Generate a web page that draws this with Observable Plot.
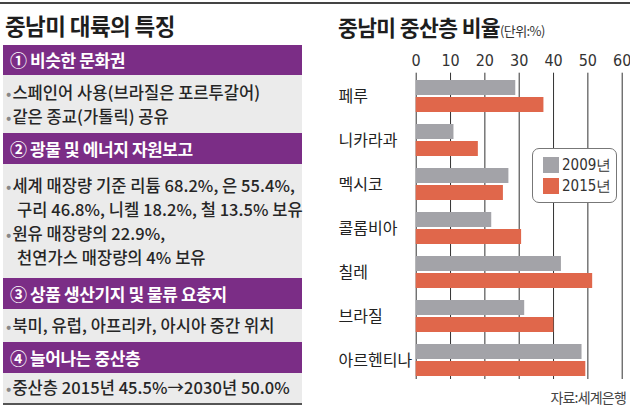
<!DOCTYPE html>
<html>
<head>
<meta charset="utf-8">
<script src="https://cdn.jsdelivr.net/npm/d3@7"></script>
<script src="https://cdn.jsdelivr.net/npm/@observablehq/plot@0.6"></script>
<style>
  html, body { margin: 0; padding: 0; background: #fff; }
  #page { position: relative; width: 630px; height: 413px; overflow: hidden; font-family: "Noto Sans CJK KR", sans-serif; }
  .abs { position: absolute; }
  .title { font-size: 22.5px; font-weight: 700; color: #1e1e1e; letter-spacing: -0.6px; white-space: nowrap; line-height: 26px; }
  .hdr { left: 3px; width: 299px; background: #7b2d86; color: #fff; font-weight: 700; font-size: 17px; padding-left: 7px; box-sizing: border-box; white-space: nowrap; letter-spacing: -0.4px; }
  .body { left: 3px; width: 299px; background: #ebebeb; }
  .ln { font-size: 16.5px; font-weight: 500; color: #262626; white-space: nowrap; line-height: 18px; letter-spacing: 0.05px; }
  .bul { color: #888; font-size: 15px; margin-right: 1px; }
  .leg { font-family: "Liberation Sans Narrow", "DejaVu Sans Condensed", sans-serif; font-size: 15px; color: #333; }
</style>
</head>
<body>
<div id="page">
  <div class="abs" style="left:0;top:2px;width:630px;height:1.5px;background:#444;"></div>

  <div class="abs title" style="left:5px;top:12px;">중남미 대륙의 특징</div>

  <div id="left"></div>

  <div class="abs title" style="left:338px;top:14px;font-size:21.5px;">중남미 중산층 비율<span style="font-size:13px;font-weight:400;letter-spacing:-0.6px;color:#333;">(단위:%)</span></div>

  <div id="chart" class="abs" style="left:320px;top:40px;"></div>

  <div class="abs" style="left:532px;top:148px;width:85px;height:55px;box-sizing:border-box;border:1px solid #777;border-radius:7px;background:#fff;"></div>
  <div id="legend"></div>

  <div class="abs" style="right:4px;top:387px;font-size:14px;color:#444;letter-spacing:-0.8px;white-space:nowrap;">자료:세계은행</div>
</div>
<script>
// ---- data ----
const countries = ["페루", "니카라과", "멕시코", "콜롬비아", "칠레", "브라질", "아르헨티나"];
const v2009 = [29, 11, 27, 22, 42.3, 31.6, 48.3];
const v2015 = [37.2, 18.1, 25.4, 30.7, 51.4, 40.1, 49.4];
const years = ["2009년", "2015년"];
const yearColors = ["#a3a3a8", "#e0674b"];
const xTicks = [0, 10, 20, 30, 40, 50, 60];

const sections = [
  {head: "① 비슷한 문화권", lines: [["•", "스페인어 사용(브라질은 포르투갈어)"], ["•", "같은 종교(가톨릭) 공유"]]},
  {head: "② 광물 및 에너지 자원보고", lines: [["•", "세계 매장량 기준 리튬 68.2%, 은 55.4%,"], ["", "구리 46.8%, 니켈 18.2%, 철 13.5% 보유"], ["•", "원유 매장량의 22.9%,"], ["", "천연가스 매장량의 4% 보유"]]},
  {head: "③ 상품 생산기지 및 물류 요충지", lines: [["•", "북미, 유럽, 아프리카, 아시아 중간 위치"]]},
  {head: "④ 늘어나는 중산층", lines: [["•", "중산층 2015년 45.5%→2030년 50.0%"]]}
];

// ---- left panel layout ----
const headTops = [45, 133, 278, 342];
const headH = [30, 31, 31, 31];
const bodyH = [58, 114, 33, 31];
const lineCenters = [[91.5, 116], [184.5, 208.5, 232.5, 256.5], [325], [387]];
const left = document.getElementById("left");
sections.forEach((s, i) => {
  const h = document.createElement("div");
  h.className = "abs hdr";
  h.style.top = headTops[i] + "px";
  h.style.height = headH[i] + "px";
  h.style.lineHeight = headH[i] + "px";
  h.textContent = s.head;
  left.appendChild(h);
  const b = document.createElement("div");
  b.className = "abs body";
  b.style.top = (headTops[i] + headH[i]) + "px";
  b.style.height = bodyH[i] + "px";
  left.appendChild(b);
  s.lines.forEach((ln, j) => {
    const d = document.createElement("div");
    d.className = "abs ln";
    d.style.top = (lineCenters[i][j] - 9) + "px";
    d.style.left = ln[0] ? "6px" : "17px";
    if (ln[0]) {
      const sp = document.createElement("span");
      sp.className = "bul";
      sp.textContent = ln[0];
      d.appendChild(sp);
    }
    d.appendChild(document.createTextNode(ln[1]));
    left.appendChild(d);
  });
});
const bl = document.createElement("div");
bl.className = "abs";
bl.style.cssText = "left:3px;top:403px;width:299px;height:1.5px;background:#555;";
left.appendChild(bl);

// ---- legend ----
const legend = document.getElementById("legend");
years.forEach((y, i) => {
  const sw = document.createElement("div");
  sw.className = "abs";
  sw.style.cssText = `left:543px;top:${157 + i * 21}px;width:16px;height:16px;background:${yearColors[i]};`;
  legend.appendChild(sw);
  const t = document.createElement("div");
  t.className = "abs leg";
  t.style.cssText += `left:562px;top:${155 + i * 21}px;line-height:20px;`;
  t.textContent = y;
  legend.appendChild(t);
});

// ---- chart ----
const rows = countries.map((c, i) => ({country: c, v2009: v2009[i], v2015: v2015[i]}));
const chart = Plot.plot({
  width: 310,
  height: 345,
  marginLeft: 95.7,
  marginRight: 8.3,
  marginTop: 32.7,
  marginBottom: 6,
  x: {domain: [0, 60]},
  y: {domain: countries, paddingInner: 0.278, paddingOuter: 0.096, align: 0.66},
  style: {fontFamily: "Noto Sans CJK KR, sans-serif", background: "transparent"},
  marks: [
    Plot.ruleX(xTicks, {stroke: "#333", strokeWidth: 1}),
    Plot.barX(rows, {y: "country", x: "v2009", fill: yearColors[0], insetBottom: 17}),
    Plot.barX(rows, {y: "country", x: "v2015", fill: yearColors[1], insetTop: 17}),
    Plot.axisX(xTicks, {anchor: "top", tickSize: 0, tickPadding: 7, fontSize: 16, fill: "#333",
      fontFamily: "Liberation Sans Narrow, DejaVu Sans Condensed, sans-serif", label: null}),
    Plot.axisY({tickSize: 0, tickPadding: 0, textAnchor: "start", dx: -77.7, fontSize: 16, fill: "#222", label: null})
  ]
});
document.getElementById("chart").appendChild(chart);
</script>
</body>
</html>
